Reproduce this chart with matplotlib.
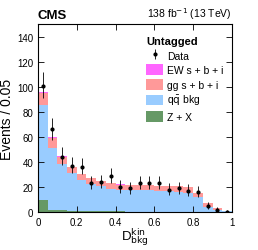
import matplotlib
matplotlib.use("Agg")
import matplotlib.pyplot as plt
import numpy as np

plt.rcParams['font.family'] = ['Liberation Sans', 'DejaVu Sans']

# bin edges of D_bkg^kin
edges = np.linspace(0, 1, 21)
centers = edges[:-1] + 0.025

# stacked components (events per bin)
zx = [10, 2, 1.5, 1.2, 1.0, 0.8, 0.7, 0.6, 0.5, 0.4, 0, 0, 0, 0, 0, 0, 0, 0, 0, 0]
qq_top = [85.5, 51, 38, 31, 25.6, 22.4, 20.8, 18.7, 18, 17.5, 17.5, 17.5, 17, 16.5, 16, 15.5, 12, 4, 2, 0.5]
gg = [9.5, 8, 6, 5, 4.5, 4.5, 4, 4.3, 4, 4, 4, 4, 4, 4.5, 4.5, 4.5, 3.5, 3, 1.5, 0.5]
ew = [1, 1, 1, 0.3, 0.3, 0.3, 0.2, 0.2, 0.2, 0.2, 0.2, 0.2, 0.2, 0.2, 0.2, 0.2, 0.1, 0.1, 0, 0]
data = [101, 66, 44, 37, 36, 23, 24, 29, 20, 19, 23, 23, 23, 18, 19, 17, 16, 5, 2, 0]

zx = np.array(zx)
qq = np.array(qq_top) - zx
gg = np.array(gg)
ew = np.array(ew)
data = np.array(data)

fig = plt.figure(figsize=(2.58, 2.51), dpi=100)
ax = fig.add_axes([0.147, 0.151, 0.752, 0.749])

w = 0.05
ax.bar(edges[:-1], zx, width=w, align='edge', color='#669966', label='Z + X')
ax.bar(edges[:-1], qq, width=w, align='edge', bottom=zx, color='#99ccff', label=r'q$\bar{\rm q}$ bkg')
ax.bar(edges[:-1], gg, width=w, align='edge', bottom=zx + qq, color='#ff9999', label='gg s + b + i')
ax.bar(edges[:-1], ew, width=w, align='edge', bottom=zx + qq + gg, color='#ff66ff', label='EW s + b + i')

# poisson-ish error bars
lo = np.sqrt(data)
hi = np.sqrt(data) + 1
hi[data == 0] = 1.8
ax.errorbar(centers, data, yerr=[lo, hi], fmt='o', color='black', ms=2, lw=0.6, capsize=0, label='Data')

ax.set_xlim(0, 1)
ax.set_ylim(0, 150)
ax.set_xticks([0, 0.2, 0.4, 0.6, 0.8, 1])
ax.set_xticklabels(['0', '0.2', '0.4', '0.6', '0.8', '1'])
ax.set_yticks(range(0, 141, 20))
ax.tick_params(direction='in', top=True, right=True, labelsize=7, length=4, width=0.6)
for s in ax.spines.values():
    s.set_linewidth(0.8)

ax.set_ylabel('Events / 0.05', fontsize=10, labelpad=2)
ax.set_xlabel(r'D$_{\rm bkg}^{\rm kin}$', fontsize=9.5, labelpad=-1)

ax.text(0, 1.015, 'CMS', transform=ax.transAxes, fontsize=9.5, fontweight='bold', ha='left', va='bottom')
ax.text(1, 1.015, r'138 fb$^{-1}$ (13 TeV)', transform=ax.transAxes, fontsize=7.5, ha='right', va='bottom')

h, l = ax.get_legend_handles_labels()
order = [4, 3, 2, 1, 0]
leg = ax.legend([h[i] for i in order], [l[i] for i in order], loc='upper right',
                bbox_to_anchor=(1.0, 0.98), frameon=False, fontsize=7.5, title='Untagged',
                title_fontproperties={'weight': 'bold', 'size': 8}, handlelength=1.6,
                handleheight=1.2, labelspacing=0.35, handletextpad=0.4, borderpad=0.3)
leg._legend_box.align = 'left'

fig.savefig('out.png', dpi=100)
